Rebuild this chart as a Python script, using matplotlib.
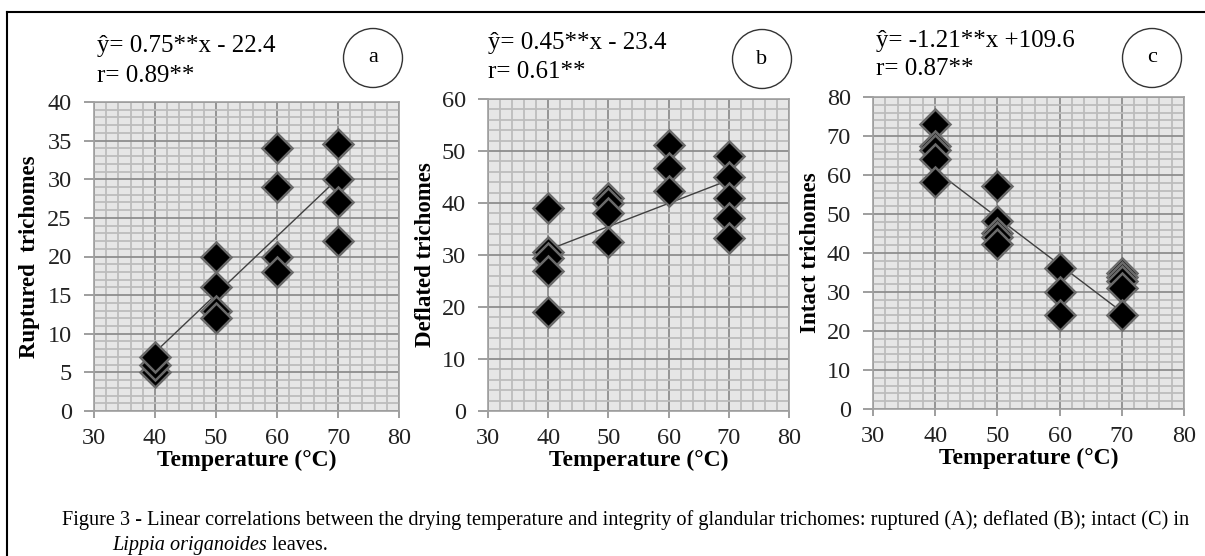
import matplotlib
matplotlib.use("Agg")
import matplotlib.pyplot as plt
from matplotlib.patches import Ellipse
from matplotlib.lines import Line2D
from matplotlib.ticker import MultipleLocator

plt.rcParams['font.family'] = ['Liberation Serif', 'DejaVu Serif']

# ---- data ----
a_x = [40, 40, 40, 50, 50, 50, 50, 60, 60, 60, 60, 70, 70, 70, 70]
a_y = [5, 6, 7, 20, 16, 13, 12, 34, 29, 20, 18, 34.6, 30, 27, 22]
a_fit_x = [40, 70]
a_fit_y = [7.6, 30.1]

b_x = [40, 40, 40, 40, 40, 50, 50, 50, 50, 60, 60, 60, 70, 70, 70, 70, 70]
b_y = [39, 30.5, 29.5, 27, 19, 41, 40, 38, 32.5, 51.2, 46.7, 42.3, 49, 45, 41, 37.2, 33.2]
b_fit_x = [40, 70]
b_fit_y = [31.0, 44.4]

c_x = [40, 40, 40, 40, 40, 50, 50, 50, 50, 50, 60, 60, 60, 70, 70, 70, 70, 70]
c_y = [73.2, 67.5, 66.3, 64.2, 58.2, 57.1, 48.3, 45, 44, 42.4, 36.2, 30.1, 24.1,
       34.8, 33.9, 32.8, 31, 24.2]
c_fit_x = [40, 70]
c_fit_y = [61.2, 24.9]

eq_texts = ["ŷ= 0.75**x - 22.4", "ŷ= 0.45**x - 23.4", "ŷ= -1.21**x +109.6"]
r_texts = ["r= 0.89**", "r= 0.61**", "r= 0.87**"]
panel_labels = ["a", "b", "c"]
y_labels = ["Ruptured  trichomes", "Deflated trichomes", "Intact trichomes"]
x_label = "Temperature (°C)"
y_max = [40, 60, 80]
y_major = [5, 10, 10]
y_minor = [1, 2, 2]

W, H = 1205, 556
fig = plt.figure(figsize=(W / 100, H / 100), dpi=100)

def fx(px):
    return px / W

def fy(py):
    return 1 - py / H

# axes boxes in pixels: left, right, top, bottom
boxes = [(94, 399, 102, 411), (488, 789, 99, 411), (873, 1184, 97, 409)]
ylab_x = [30, 425, 810]
eq_pos = [(97, 52, 82), (488, 49, 78), (876, 47, 75)]
circ_pos = [(373, 58), (762, 59), (1152, 58)]
xlab_base = [466, 466, 464]

datasets = [(a_x, a_y, a_fit_x, a_fit_y), (b_x, b_y, b_fit_x, b_fit_y),
            (c_x, c_y, c_fit_x, c_fit_y)]

for i, (l, r, t, b) in enumerate(boxes):
    ax = fig.add_axes([fx(l), fy(b), fx(r) - fx(l), fy(t) - fy(b)])
    ax.set_facecolor('#e6e6e6')
    ax.set_xlim(30, 80)
    ax.set_ylim(0, y_max[i])
    ax.xaxis.set_major_locator(MultipleLocator(10))
    ax.xaxis.set_minor_locator(MultipleLocator(2))
    ax.yaxis.set_major_locator(MultipleLocator(y_major[i]))
    ax.yaxis.set_minor_locator(MultipleLocator(y_minor[i]))
    ax.grid(which='minor', color='#bcbcbc', linewidth=1.3, zorder=0)
    ax.grid(which='major', color='#8e8e8e', linewidth=1.3, zorder=0)
    ax.set_axisbelow(True)
    for s in ax.spines.values():
        s.set_color('#a0a0a0')
        s.set_linewidth(1.2)
    ax.tick_params(which='minor', length=0)
    ax.tick_params(axis='y', which='major', length=7, width=1.2, color='#8e8e8e',
                   labelsize=17.5, pad=9, labelcolor='#222222')
    ax.tick_params(axis='x', which='major', length=5, width=1.2, color='#8e8e8e',
                   labelsize=17.5, pad=7, labelcolor='#222222')
    xs, ys, fxs, fys = datasets[i]
    ax.plot(fxs, fys, color='#404040', linewidth=1.0, zorder=2)
    ax.plot(xs, ys, linestyle='none', marker='D', markersize=15,
            markerfacecolor='black', markeredgecolor='#6a6a6a',
            markeredgewidth=1.8, zorder=3, clip_on=False)
    fig.text(fx((l + r) / 2), fy(xlab_base[i]), x_label, fontsize=17,
             fontweight='bold', ha='center', va='baseline')
    fig.text(fx(ylab_x[i]), fy((t + b) / 2), y_labels[i], rotation=90,
             fontsize=16.5, fontweight='bold', ha='center', va='center')
    ex, ey1, ey2 = eq_pos[i]
    fig.text(fx(ex), fy(ey1), eq_texts[i], fontsize=18, ha='left', va='baseline')
    fig.text(fx(ex), fy(ey2), r_texts[i], fontsize=18, ha='left', va='baseline')
    cx, cy = circ_pos[i]
    fig.patches.append(Ellipse((fx(cx), fy(cy)), 59 / W, 59 / H,
                               transform=fig.transFigure, facecolor='none',
                               edgecolor='#333333', linewidth=1.0))
    fig.text(fx(cx), fy(cy), panel_labels[i], fontsize=16, ha='center', va='center')

# outer frame lines
fig.add_artist(Line2D([fx(7), fx(7)], [fy(12), 0], color='black', linewidth=1.5,
                      transform=fig.transFigure))
fig.add_artist(Line2D([fx(7), 1], [fy(12), fy(12)], color='black', linewidth=1.5,
                      transform=fig.transFigure))

cap1 = ("Figure 3 - Linear correlations between the drying temperature and integrity "
        "of glandular trichomes: ruptured (A); deflated (B); intact (C) in")
fig.text(fx(62), fy(525), cap1, fontsize=14.6, ha='left', va='baseline')
t1 = fig.text(fx(112), fy(550), "Lippia origanoides", fontsize=14.6, style='italic',
              ha='left', va='baseline')
fig.text(0, 0, "", fontsize=1)
ann = fig.axes[0].annotate(" leaves.", xy=(1, 0), xycoords=t1, ha='left',
                           va='bottom', fontsize=14.6, annotation_clip=False)

fig.savefig("out.png", dpi=100)
